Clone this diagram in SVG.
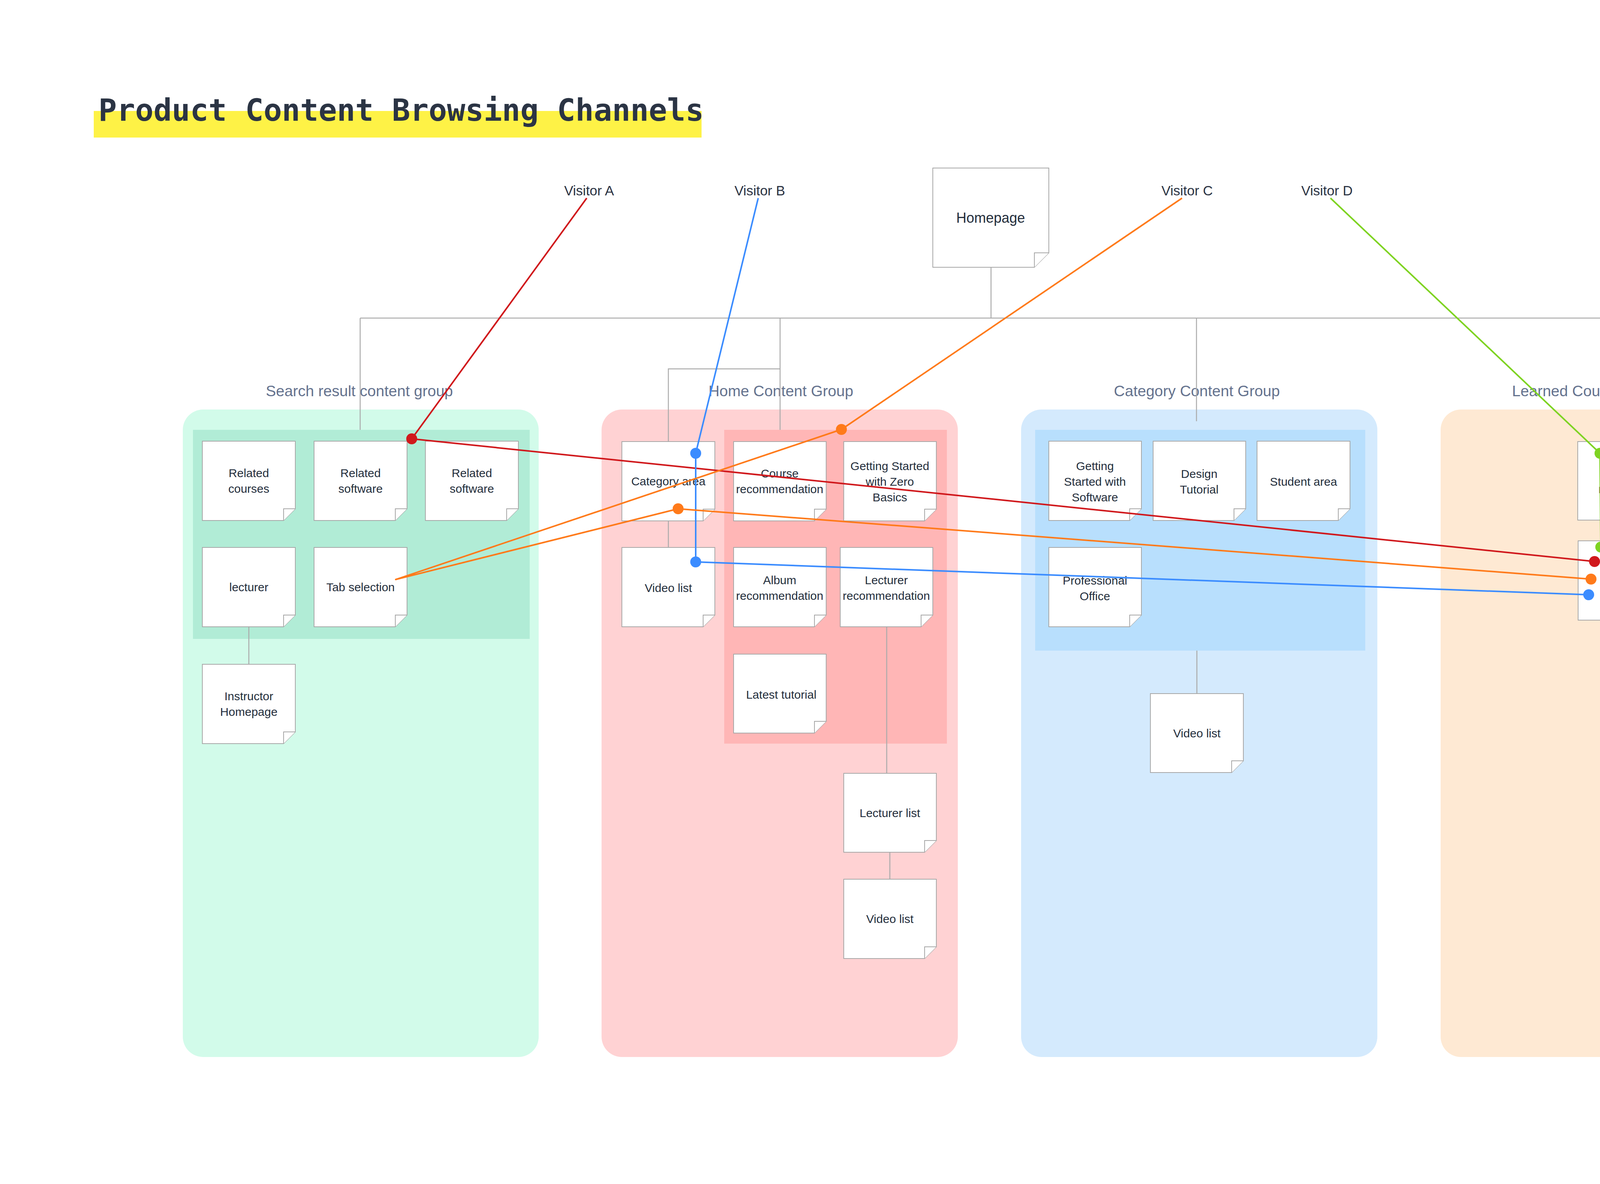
<svg xmlns="http://www.w3.org/2000/svg" width="5000" height="3030" viewBox="0 0 5000 3030">
<style>
.node path{fill:#ffffff;stroke:#a8a8a8;stroke-width:2}
.node text{font-family:"Liberation Sans",Arial,sans-serif;font-size:30px;fill:#232d3b;text-anchor:middle}
.glabel{font-family:"Liberation Sans",Arial,sans-serif;font-size:39px;fill:#64728e;text-anchor:middle}
.visitor{font-family:"Liberation Sans",Arial,sans-serif;font-size:35px;fill:#2a3242;text-anchor:middle}
.conn{fill:none;stroke:#ababab;stroke-width:2.5}
.vl{fill:none;stroke-width:4;stroke-linejoin:round}
</style>
<rect width="5000" height="3030" fill="#ffffff"/>
<g id="title">
<rect x="240" y="284" width="1556" height="68" fill="#fef246"/>
<text x="252" y="309" font-family="DejaVu Sans Mono,Liberation Mono,monospace" font-weight="bold" font-size="78" fill="#2b3444">Product Content Browsing Channels</text>
</g>
<g id="groups">
<rect x="468" y="1048" width="911" height="1657" rx="52" fill="#d2fbea"/>
<rect x="494" y="1100" width="862" height="535" fill="#b1ecd6"/>
<rect x="1540" y="1048" width="912" height="1657" rx="52" fill="#ffd2d3"/>
<rect x="1854" y="1100" width="570" height="803" fill="#ffb6b6"/>
<rect x="2614" y="1048" width="912" height="1657" rx="52" fill="#d4eafd"/>
<rect x="2650" y="1100" width="845" height="565" fill="#b8dffd"/>
<rect x="3688" y="1048" width="912" height="1657" rx="52" fill="#fee9d3"/>
<text class="glabel" x="920" y="1014">Search result content group</text>
<text class="glabel" x="1999" y="1014">Home Content Group</text>
<text class="glabel" x="3064" y="1014">Category Content Group</text>
<text class="glabel" x="4144" y="1014">Learned Course Content Group</text>
</g>
<g id="connectors">
<path class="conn" d="M922 814H4158"/>
<path class="conn" d="M2537 684V814"/>
<path class="conn" d="M922 814V1100"/>
<path class="conn" d="M1997 814V1100"/>
<path class="conn" d="M1997 944H1711V1130"/>
<path class="conn" d="M3063 814V1078"/>
<path class="conn" d="M4158 814V1130"/>
<path class="conn" d="M637 1604V1700"/>
<path class="conn" d="M1711 1332V1401"/>
<path class="conn" d="M2270 1604V1979"/>
<path class="conn" d="M2278 2181V2250"/>
<path class="conn" d="M3064 1665V1775"/>
<path class="conn" d="M4158 1331V1384"/>
<path class="conn" d="M4276 1231H4304V1482H4277"/>
</g>
<g id="homepage" class="node">
<path d="M2388 430H2685V647L2648 684H2388Z"/>
<path d="M2648 684V647H2685"/>
<text x="2536" y="570" style="font-size:36px">Homepage</text>
</g>
<g id="visitors">
<text class="visitor" x="1508" y="500">Visitor A</text>
<text class="visitor" x="1945" y="500">Visitor B</text>
<text class="visitor" x="3039" y="500">Visitor C</text>
<text class="visitor" x="3397" y="500">Visitor D</text>
</g>
<g id="n-related-courses" class="node" transform="translate(518,1129)">
<path d="M0 0H238V173L208 203H0Z"/><path d="M208 203V173H238"/>
<text x="119" y="92">Related</text><text x="119" y="132">courses</text>
</g>
<g id="n-related-software-1" class="node" transform="translate(804,1129)">
<path d="M0 0H238V173L208 203H0Z"/><path d="M208 203V173H238"/>
<text x="119" y="92">Related</text><text x="119" y="132">software</text>
</g>
<g id="n-related-software-2" class="node" transform="translate(1089,1129)">
<path d="M0 0H238V173L208 203H0Z"/><path d="M208 203V173H238"/>
<text x="119" y="92">Related</text><text x="119" y="132">software</text>
</g>
<g id="n-lecturer" class="node" transform="translate(518,1401)">
<path d="M0 0H238V173L208 203H0Z"/><path d="M208 203V173H238"/>
<text x="119" y="112">lecturer</text>
</g>
<g id="n-tab-selection" class="node" transform="translate(804,1401)">
<path d="M0 0H238V173L208 203H0Z"/><path d="M208 203V173H238"/>
<text x="119" y="112">Tab selection</text>
</g>
<g id="n-instructor-homepage" class="node" transform="translate(518,1700)">
<path d="M0 0H238V173L208 203H0Z"/><path d="M208 203V173H238"/>
<text x="119" y="92">Instructor</text><text x="119" y="132">Homepage</text>
</g>
<g id="n-category-area" class="node" transform="translate(1592,1130)">
<path d="M0 0H238V173L208 203H0Z"/><path d="M208 203V173H238"/>
<text x="119" y="112">Category area</text>
</g>
<g id="n-course-recommendation" class="node" transform="translate(1878,1130)">
<path d="M0 0H237V173L207 203H0Z"/><path d="M207 203V173H237"/>
<text x="118" y="92">Course</text><text x="118" y="132">recommendation</text>
</g>
<g id="n-getting-started-zero" class="node" transform="translate(2160,1130)">
<path d="M0 0H237V173L207 203H0Z"/><path d="M207 203V173H237"/>
<text x="118" y="73">Getting Started</text><text x="118" y="113">with Zero</text><text x="118" y="153">Basics</text>
</g>
<g id="n-video-list-home" class="node" transform="translate(1592,1401)">
<path d="M0 0H238V173L208 203H0Z"/><path d="M208 203V173H238"/>
<text x="119" y="114">Video list</text>
</g>
<g id="n-album-recommendation" class="node" transform="translate(1878,1401)">
<path d="M0 0H237V173L207 203H0Z"/><path d="M207 203V173H237"/>
<text x="118" y="94">Album</text><text x="118" y="134">recommendation</text>
</g>
<g id="n-lecturer-recommendation" class="node" transform="translate(2151,1401)">
<path d="M0 0H237V173L207 203H0Z"/><path d="M207 203V173H237"/>
<text x="118" y="94">Lecturer</text><text x="118" y="134">recommendation</text>
</g>
<g id="n-latest-tutorial" class="node" transform="translate(1878,1674)">
<path d="M0 0H237V172L207 202H0Z"/><path d="M207 202V172H237"/>
<text x="122" y="114">Latest tutorial</text>
</g>
<g id="n-lecturer-list" class="node" transform="translate(2160,1979)">
<path d="M0 0H237V172L207 202H0Z"/><path d="M207 202V172H237"/>
<text x="118" y="112">Lecturer list</text>
</g>
<g id="n-video-list-lecturer" class="node" transform="translate(2160,2250)">
<path d="M0 0H237V173L207 203H0Z"/><path d="M207 203V173H237"/>
<text x="118" y="112">Video list</text>
</g>
<g id="n-getting-started-software" class="node" transform="translate(2685,1129)">
<path d="M0 0H237V173L207 203H0Z"/><path d="M207 203V173H237"/>
<text x="118" y="74">Getting</text><text x="118" y="114">Started with</text><text x="118" y="154">Software</text>
</g>
<g id="n-design-tutorial" class="node" transform="translate(2952,1129)">
<path d="M0 0H237V173L207 203H0Z"/><path d="M207 203V173H237"/>
<text x="118" y="94">Design</text><text x="118" y="134">Tutorial</text>
</g>
<g id="n-student-area" class="node" transform="translate(3218,1129)">
<path d="M0 0H238V173L208 203H0Z"/><path d="M208 203V173H238"/>
<text x="119" y="114">Student area</text>
</g>
<g id="n-professional-office" class="node" transform="translate(2685,1401)">
<path d="M0 0H237V173L207 203H0Z"/><path d="M207 203V173H237"/>
<text x="118" y="95">Professional</text><text x="118" y="135">Office</text>
</g>
<g id="n-video-list-category" class="node" transform="translate(2945,1775)">
<path d="M0 0H238V172L208 202H0Z"/><path d="M208 202V172H238"/>
<text x="119" y="112">Video list</text>
</g>
<g id="n-content-record-list" class="node" transform="translate(4039,1130)">
<path d="M0 0H237V171L207 201H0Z"/><path d="M207 201V171H237"/>
<text x="118" y="93">Content</text><text x="118" y="132">record list</text>
</g>
<g id="n-play-the-lesson" class="node" transform="translate(4040,1384)">
<path d="M0 0H237V173L207 203H0Z"/><path d="M207 203V173H237"/>
<text x="118" y="94">Play the</text><text x="118" y="134">lesson</text>
</g>
<g id="visitor-paths">
<polyline class="vl" stroke="#d0181c" points="1502,507 1054,1123 4082,1437"/>
<polyline class="vl" stroke="#3b8cff" points="1941,507 1781,1160 1781,1438 4067,1522"/>
<polyline class="vl" stroke="#ff7a1a" points="3026,507 2154,1099 1013,1483 1736,1302 4073,1482"/>
<polyline class="vl" stroke="#7ed321" points="3406,507 4096,1160 4098,1400"/>
<g fill="#d0181c"><circle cx="1054" cy="1123" r="14"/><circle cx="4082" cy="1437" r="14"/></g>
<g fill="#3b8cff"><circle cx="1781" cy="1160" r="14"/><circle cx="1781" cy="1438" r="14"/><circle cx="4067" cy="1522" r="14"/></g>
<g fill="#ff7a1a"><circle cx="2154" cy="1099" r="14"/><circle cx="1736" cy="1302" r="14"/><circle cx="4073" cy="1482" r="14"/></g>
<g fill="#7ed321"><circle cx="4096" cy="1160" r="14"/><circle cx="4098" cy="1400" r="14"/></g>
</g>
</svg>
